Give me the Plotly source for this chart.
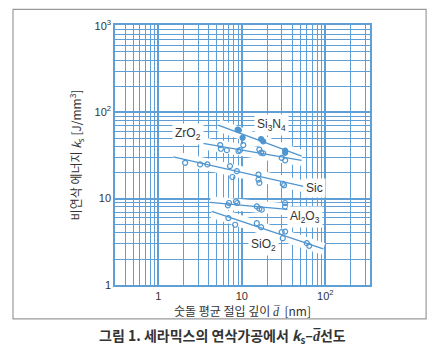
import math
import plotly.graph_objects as go

BLUE = "#4f95cf"
GRID = "#5f9fd6"
TXT = "#333333"

# fitted lines (endpoints)
si3n4_fit_x = [5.2, 52]
si3n4_fit_y = [71, 31]
zro2_fit_x = [3.16, 52]
zro2_fit_y = [44.3, 27.7]
sic_fit_x = [1.51, 54.5]
sic_fit_y = [30.5, 13.9]
al2o3_fit_x = [4.16, 37.8]
al2o3_fit_y = [9.06, 7.45]
sio2_fit_x = [4.36, 94.6]
sio2_fit_y = [7.1, 2.62]

# measured points
si3n4_x = [8.9, 9.2, 10.2, 17, 18, 33, 33]
si3n4_y = [63, 62, 50.7, 49, 46, 36, 34]
zro2_x = [5.5, 5.6, 6.6, 9.1, 9.5, 10.4, 16.2, 17, 18, 30, 33]
zro2_y = [41.7, 37.8, 36.4, 35.5, 36.5, 41.7, 37, 34, 33.5, 29.7, 27.7]
sic_x = [2.09, 3.16, 3.86, 7.2, 7.7, 8.7, 15.8, 15.8, 16.2, 30.9, 32]
sic_y = [26, 24.9, 24.9, 23.8, 17.8, 20.8, 19, 16.6, 15.2, 14.8, 14.3]
al2o3_x = [6.8, 7.0, 8.5, 8.8, 15.1, 16.2, 17.3, 32.9, 32.9]
al2o3_y = [8.36, 8.9, 9.3, 8.9, 8.13, 7.65, 7.45, 8.9, 8.1]
sio2_x = [6.9, 8.3, 15.1, 17, 30, 33, 30.9, 60, 64]
sio2_y = [5.95, 4.98, 5.2, 4.68, 4.1, 4.15, 3.48, 3.05, 2.84]

labels = ["Si<sub>3</sub>N<sub>4</sub>", "ZrO<sub>2</sub>", "Sic", "Al<sub>2</sub>O<sub>3</sub>", "SiO<sub>2</sub>"]
label_x = [22.8, 2.25, 73.8, 57, 18]
label_y = [71, 55.5, 13.1, 6.2, 2.92]

x_tickvals = [1, 10, 100]
x_ticktext = ["1", "10", "10<sup>2</sup>"]
y_tickvals = [1, 10, 100, 1000]
y_ticktext = ["1", "10", "10<sup>2</sup>", "10<sup>3</sup>"]

fig = go.Figure()

fits = [(si3n4_fit_x, si3n4_fit_y), (zro2_fit_x, zro2_fit_y), (sic_fit_x, sic_fit_y),
        (al2o3_fit_x, al2o3_fit_y), (sio2_fit_x, sio2_fit_y)]
pts = [(si3n4_x, si3n4_y), (zro2_x, zro2_y), (sic_x, sic_y), (al2o3_x, al2o3_y), (sio2_x, sio2_y)]

# white band under each line (the paper is cleared there)
for fx, fy in fits:
    fig.add_trace(go.Scatter(x=fx, y=fy, mode="lines", line=dict(color="white", width=12),
                             showlegend=False, hoverinfo="skip"))
for fx, fy in fits:
    fig.add_trace(go.Scatter(x=fx, y=fy, mode="lines", line=dict(color=BLUE, width=1.3),
                             showlegend=False))
for i, (px, py) in enumerate(pts):
    sym = "circle" if i == 0 else "circle-open"
    fig.add_trace(go.Scatter(x=px, y=py, mode="markers",
                             marker=dict(symbol=sym, size=5, color=BLUE, line=dict(width=1.2, color=BLUE)),
                             showlegend=False))

# annotations on log axes take log10 coordinates
for t, lx, ly in zip(labels, label_x, label_y):
    fig.add_annotation(x=math.log10(lx), y=math.log10(ly), xref="x", yref="y", text=t, showarrow=False,
                       font=dict(family="Liberation Sans, Arial", size=12, color=TXT),
                       bgcolor="white", borderpad=2)

axis_common = dict(type="log", showgrid=True, gridcolor=GRID, gridwidth=1.5,
                   showline=True, linecolor=GRID, linewidth=1.5, mirror=True,
                   ticks="", zeroline=False,
                   tickfont=dict(family="Liberation Sans, Arial", size=11, color=TXT),
                   minor=dict(showgrid=True, gridcolor=GRID, gridwidth=1.1, dtick="D1"))

fig.update_xaxes(**axis_common, range=[-0.52, 2.535], tickvals=x_tickvals, ticktext=x_ticktext,
                 title=dict(text="숫돌 평균 절입 깊이 <i>d\u0305</i>  [nm]", standoff=4,
                            font=dict(family="Noto Sans CJK KR", size=12, color=TXT)))
fig.update_yaxes(**axis_common, range=[0, 3.01], tickvals=y_tickvals, ticktext=y_ticktext,
                 title=dict(text="비연삭 에너지 <i>k</i><sub>s</sub> [J/mm<sup>3</sup>]", standoff=10,
                            font=dict(family="Noto Sans CJK KR", size=12, color=TXT)))

# outer frame and caption
fig.add_shape(type="rect", xref="paper", yref="paper", x0=-0.4, x1=1.22, y0=-0.13, y1=1.06,
              line=dict(color="#999999", width=1.2), layer="below")
fig.add_annotation(xref="paper", yref="paper", x=0.42, y=-0.195, yanchor="middle",
                   text="<b>그림 1. 세라믹스의 연삭가공에서 <i>k</i><sub>s</sub>–<i>d\u0305</i>선도</b>",
                   showarrow=False, font=dict(family="Noto Sans CJK KR", size=14, color=TXT))

fig.update_layout(width=435, height=351, margin=dict(l=115, r=65, t=25, b=66),
                  paper_bgcolor="white", plot_bgcolor="white")

fig.write_html("out.html")
